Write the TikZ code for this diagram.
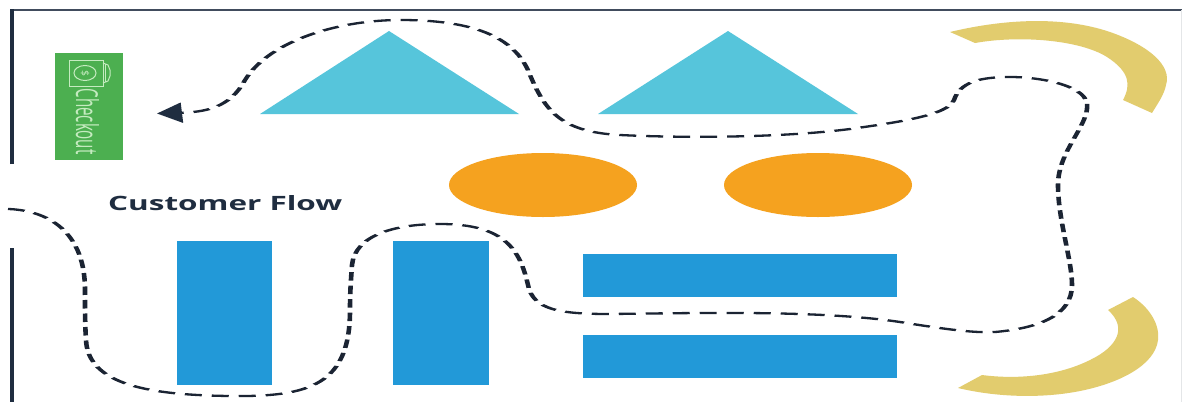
\documentclass[tikz,border=0pt]{standalone}
\usepackage{fontspec}
\usepackage{graphicx}
\setmainfont{Open Sans}
\usetikzlibrary{arrows.meta}
\definecolor{wallc}{HTML}{1F2D40}
\definecolor{tealc}{HTML}{56C5DB}
\definecolor{orangec}{HTML}{F5A21F}
\definecolor{bluec}{HTML}{2299D8}
\definecolor{goldc}{HTML}{E2CC6E}
\definecolor{greenc}{HTML}{4CAF50}
\definecolor{greenl}{HTML}{C5EBC0}
\definecolor{pathc}{HTML}{1B2433}
\tikzset{
  wall/.style={draw=wallc,line width=4pt},
  topwall/.style={draw=wallc!85,line width=2.6pt},
  shelf/.style={fill=bluec},
  tri/.style={fill=tealc},
  oval/.style={fill=orangec},
  arcshape/.style={fill=goldc},
  icon/.style={draw=greenl,line width=1pt},
  flow/.style={draw=pathc,line width=4.6pt,dash pattern=on 17pt off 10pt,-{Triangle[length=25pt,width=40pt,color=wallc]}}
}
\begin{document}
\begin{tikzpicture}[x=1pt,y=-1pt]
\useasboundingbox (0,0) rectangle (1182,402);
\fill[white] (0,0) rectangle (1182,402);
% walls
\draw[topwall] (10,10) -- (1182,10);
\draw[wall] (12,164) -- (12,8.7);
\draw[wall] (12,248) -- (12,402);
\draw[draw=wallc!12,line width=1pt] (1181,10) -- (1181,402);
% triangles
\fill[tri] (260,114) -- (389,31) -- (519,114) -- cycle;
\fill[tri] (598,114) -- (728,31) -- (858,114) -- cycle;
% ellipses
\fill[oval] (543,185) ellipse [x radius=94,y radius=32];
\fill[oval] (818,185) ellipse [x radius=94,y radius=32];
% shelves
\fill[shelf] (177,241) rectangle (272,385);
\fill[shelf] (393,241) rectangle (489,385);
\fill[shelf] (583,254) rectangle (897,297);
\fill[shelf] (583,335) rectangle (897,378);
% arcs
\fill[arcshape] (950,32) .. controls (1000,20) and (1060,15) .. (1110,32)
  .. controls (1150,46) and (1172,66) .. (1166,85)
  .. controls (1164,95) and (1158,103) .. (1152,113) -- (1123,100)
  .. controls (1131,85) and (1130,72) .. (1107,57)
  .. controls (1080,40) and (1020,35) .. (975,43) -- cycle;
\fill[arcshape] (1133,297) .. controls (1150,308) and (1160,325) .. (1158,340)
  .. controls (1155,365) and (1120,383) .. (1080,391)
  .. controls (1045,398) and (1000,398) .. (958,388) -- (982,375)
  .. controls (1020,380) and (1060,375) .. (1090,360)
  .. controls (1117,347) and (1128,328) .. (1108,310) -- cycle;
% checkout
\fill[greenc] (55,53) rectangle (123,160);
\node (checkout) [rotate=-90,text=greenl,inner sep=0pt] at (87.5,121.5) {\resizebox{66pt}{23pt}{\fontsize{20}{20}\selectfont Checkout}};
\draw[icon] (69,60) rectangle (103,86);
\draw[icon] (85,73) ellipse [x radius=11,y radius=7.5];
\draw[icon] (103,63) -- (108,65) -- (110,70) -- (110,76) -- (108,81) -- (103,83);
\draw[icon] (105,64) -- (105,82);
\node[text=greenl,rotate=-90,inner sep=0pt] (dollar) at (85,73) {\resizebox{6pt}{8pt}{\$}};
% label
\node (title) [text=wallc,inner sep=0pt,anchor=base west] at (108,210.5) {\resizebox{234pt}{15pt}{\fontsize{16}{16}\selectfont\bfseries Customer Flow}};
% flow
\begin{scope}[transform canvas={yscale=0.5},y=-2pt]
\coordinate (flowstart) at (8,209);
\coordinate (flowend) at (157,113.5);
\draw[flow] (flowstart)
  .. controls (40,210) and (85,225) .. (85,290)
  .. controls (85,310) and (85,325) .. (86,340)
  .. controls (88,385) and (150,395) .. (230,396)
  .. controls (310,397) and (350,385) .. (350,310)
  .. controls (350,290) and (351,280) .. (352,265)
  .. controls (355,235) and (395,224) .. (440,224)
  .. controls (505,224) and (520,250) .. (528,285)
  .. controls (533,310) and (560,314) .. (610,314)
  .. controls (700,313) and (820,310) .. (900,322)
  .. controls (950,330) and (975,333) .. (995,332)
  .. controls (1040,328) and (1072,315) .. (1072,285)
  .. controls (1072,260) and (1058,220) .. (1058,185)
  .. controls (1058,150) and (1090,125) .. (1087,103)
  .. controls (1083,85) and (1040,77) .. (1010,77)
  .. controls (980,77) and (960,82) .. (954,100)
  .. controls (948,115) and (900,122) .. (850,129)
  .. controls (780,138) and (680,138) .. (620,135)
  .. controls (560,132) and (545,110) .. (530,75)
  .. controls (515,35) and (470,20) .. (400,20)
  .. controls (340,20) and (270,40) .. (245,80)
  .. controls (230,108) and (205,112) .. (flowend);
\end{scope}
\end{tikzpicture}
\end{document}
